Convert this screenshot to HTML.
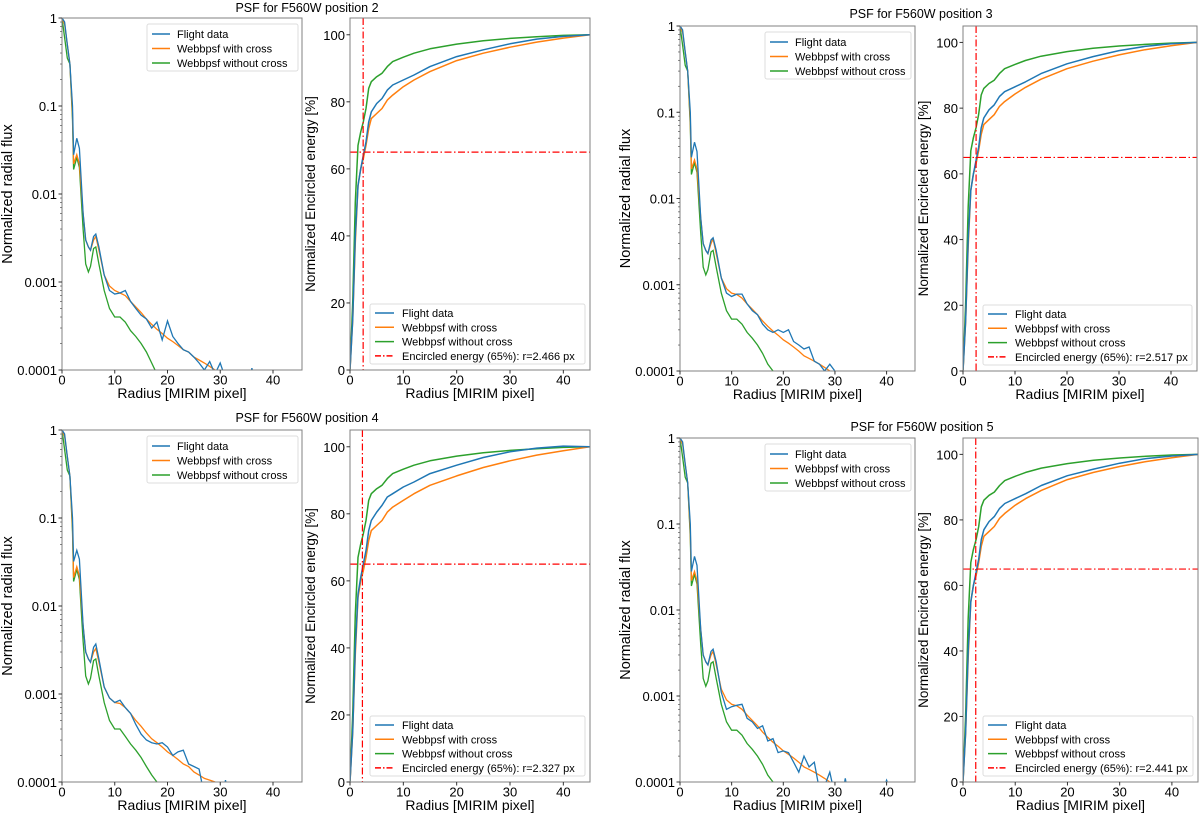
<!DOCTYPE html>
<html><head><meta charset="utf-8">
<style>
html,body{margin:0;padding:0;background:#fff;}
svg{display:block;font-family:"Liberation Sans","DejaVu Sans",sans-serif;}
</style></head>
<body>
<svg id="fig" width="1200" height="814" viewBox="0 0 1200 814" xmlns="http://www.w3.org/2000/svg"></svg>
<script>
// ---- data ----
const rFlux = [0,0.5,1,1.5,2,2.2,2.8,3.3,4,4.5,5,5.4,6,6.4,7,8,9,10,11,12,13,14,15,16,17,18,19,20,21,22,23,24,25,26,27,28,29,30,31,32,33,34,35,36,37,38,40,42,45];
const rEE = [0,0.5,1,1.5,2,2.5,3,3.5,4,5,6,7,8,10,12,15,20,25,30,35,40,45];
const FLOOR = 5e-5;

const flux2Flight = [1,0.9,0.5,0.3,0.1,0.028,0.043,0.033,0.006,0.003,0.0025,0.0023,0.0033,0.0035,0.0025,0.0012,0.0008,0.00073,0.00075,0.0008,0.0006,0.0005,0.00042,0.00038,0.0003,0.00035,0.00022,0.00036,0.00024,0.0002,0.00017,0.00016,0.00014,0.00012,0.0001,0.000125,0.00009,0.00012,0.00008,FLOOR,FLOOR,FLOOR,FLOOR,0.000105];
const flux2Cross = [1,0.85,0.5,0.3,0.08,0.022,0.028,0.022,0.006,0.003,0.0025,0.0023,0.003,0.0033,0.0023,0.0012,0.0009,0.0008,0.00075,0.0007,0.0006,0.00052,0.00045,0.00038,0.00033,0.00029,0.00026,0.00023,0.00021,0.00019,0.00017,0.00016,0.00014,0.00013,0.00012,0.00011,0.0001,0.00009];
const flux2NoCross = [1,0.6,0.35,0.3,0.07,0.019,0.026,0.02,0.004,0.0016,0.0013,0.0015,0.0024,0.0025,0.0016,0.0008,0.0005,0.0004,0.0004,0.00035,0.00028,0.00024,0.0002,0.00016,0.00012,0.00009];

const flux3Flight = [1,0.9,0.5,0.3,0.1,0.03,0.045,0.035,0.006,0.003,0.0025,0.0023,0.0033,0.0035,0.0025,0.0012,0.0008,0.00073,0.00078,0.00078,0.0006,0.0005,0.00045,0.00035,0.0003,0.00028,0.0003,0.00028,0.0003,0.00022,0.0002,0.00018,0.00019,0.00013,0.00012,0.0001,0.00012,0.0001];
const flux3Cross = [1,0.85,0.5,0.3,0.08,0.022,0.028,0.022,0.006,0.003,0.0025,0.0023,0.003,0.0034,0.0023,0.0012,0.0009,0.0008,0.00077,0.0007,0.0006,0.00052,0.00045,0.00038,0.00033,0.00029,0.00026,0.00023,0.00021,0.00019,0.00017,0.00015,0.00014,0.00013,0.00012,0.00011,0.0001,0.000095];
const flux3NoCross = [1,0.6,0.35,0.3,0.07,0.019,0.026,0.02,0.004,0.0016,0.0013,0.0015,0.0024,0.0025,0.0016,0.0008,0.0005,0.0004,0.0004,0.00035,0.00028,0.00024,0.0002,0.00016,0.00012,0.0001];

const flux4Flight = [1,0.9,0.5,0.3,0.1,0.032,0.043,0.034,0.006,0.003,0.0025,0.0023,0.0034,0.0037,0.0025,0.0012,0.0009,0.0008,0.00085,0.0007,0.0006,0.00045,0.00035,0.0003,0.00028,0.00027,0.00028,0.00025,0.0002,0.00022,0.00023,0.00016,0.00015,0.00014,0.00007,FLOOR,FLOOR,FLOOR,0.000105];
const flux4Cross = [1,0.85,0.5,0.3,0.08,0.021,0.028,0.022,0.006,0.003,0.0025,0.0023,0.003,0.0033,0.0023,0.0012,0.0009,0.0008,0.00078,0.0007,0.0006,0.0005,0.00043,0.00036,0.00031,0.00028,0.00025,0.00022,0.0002,0.00018,0.00016,0.00015,0.00013,0.00012,0.00011,0.000105,0.0001,0.00009];
const flux4NoCross = [1,0.6,0.35,0.3,0.07,0.019,0.026,0.02,0.004,0.0016,0.0013,0.0015,0.0024,0.0025,0.0016,0.0008,0.0005,0.0004,0.0004,0.00033,0.00027,0.00023,0.00019,0.00015,0.00012,0.0001];

const flux5Flight = [1,0.9,0.5,0.3,0.1,0.028,0.042,0.033,0.006,0.003,0.0025,0.0023,0.0033,0.0035,0.0025,0.0011,0.0007,0.00075,0.00078,0.0008,0.00055,0.0005,0.00042,0.00045,0.0003,0.00032,0.00022,0.00023,0.00022,0.00017,0.00013,0.0002,0.00015,0.00017,0.00008,0.00009,0.00013,0.00007,FLOOR,0.00011,FLOOR,FLOOR,FLOOR,FLOOR,FLOOR,FLOOR,0.000105];
const flux5Cross = [1,0.85,0.5,0.3,0.08,0.022,0.028,0.022,0.006,0.003,0.0025,0.0023,0.003,0.0033,0.0023,0.0012,0.0009,0.0008,0.00077,0.0007,0.0006,0.00052,0.00045,0.00038,0.00033,0.00029,0.00026,0.00023,0.00021,0.00019,0.00017,0.00015,0.00014,0.00013,0.00012,0.00011,0.0001,0.00009];
const flux5NoCross = [1,0.6,0.35,0.3,0.07,0.019,0.026,0.02,0.004,0.0016,0.0013,0.0015,0.0024,0.0025,0.0016,0.0008,0.0005,0.0004,0.0004,0.00035,0.00028,0.00024,0.0002,0.00016,0.00012,0.0001];

const ee2Flight = [0,15,40,55,60,64,68,74,77,79.5,81,83.5,85,86.5,88,90.5,93.5,95.5,97.3,98.7,99.5,100];
const ee2Cross = [0,15,38,55,60,63,67,72,75,76.5,78,80.5,82,84.5,86.5,89,92.3,94.5,96.3,97.8,99,100];
const ee2NoCross = [0,20,50,67,71,74,78,84,86,87.5,88.5,90.5,92,93.3,94.5,95.8,97.2,98.2,98.9,99.4,99.8,100];
const ee3Flight = [0,15,40,55,60,64,68,74,77,79.5,81,83.5,85,86.5,88,90.5,93.5,95.7,97.5,98.8,99.6,100];
const ee3Cross = [0,15,38,55,60,63,67,72,75,76.5,78,80.5,82,84.3,86.3,88.8,92,94.3,96.2,97.8,99,100];
const ee3NoCross = [0,20,50,67,71,74,78,84,86,87.5,88.5,90.5,92,93.3,94.5,95.8,97.2,98.2,98.9,99.4,99.8,100];
const ee4Flight = [0,15,40,56,61,65,69,75,78,80.5,82.5,85,86,88,89.5,92,94.5,96.8,98.5,99.6,100.2,100];
const ee4Cross = [0,15,38,55,60,63,67,72,75,76.5,78,80.5,82,84,86,88.5,91.3,93.8,95.8,97.5,98.8,100];
const ee4NoCross = [0,20,50,67,71,74,78,84,86,87.5,88.5,90.5,92,93.3,94.5,95.8,97.2,98.2,98.9,99.4,99.8,100];
const ee5Flight = [0,15,40,55,60,64,68,74,77,79.5,81,83.5,85,86.5,88,90.5,93.5,95.5,97.3,98.7,99.5,100];
const ee5Cross = [0,15,38,55,60,63,67,72,75,76.5,78,80.5,82,84.5,86.5,89,92.3,94.5,96.3,97.8,99,100];
const ee5NoCross = [0,20,50,67,71,74,78,84,86,87.5,88.5,90.5,92,93.3,94.5,95.8,97.2,98.2,98.9,99.4,99.8,100];

const eeRadius = [2.466, 2.517, 2.327, 2.441];
const eeLevel = 65;
const positions = [2,3,4,5];
const xTicks = [0,10,20,30,40];
const fluxTicks = [1,0.1,0.01,0.001,0.0001];
const fluxTickLabels = ["1","0.1","0.01","0.001","0.0001"];
const eeTicks = [0,20,40,60,80,100];
const legendLabels = ["Flight data","Webbpsf with cross","Webbpsf without cross"];

// ---- layout ----
const C = {blue:"#1f77b4", orange:"#ff7f0e", green:"#2ca02c", red:"#ff0000"};
const quads = [
  {flux:[62,18,302,370], ee:[350,18,590,370], title:[307,12], fl:[flux2Flight,flux2Cross,flux2NoCross], e:[ee2Flight,ee2Cross,ee2NoCross]},
  {flux:[680,26,915,371], ee:[963,26,1197,371], title:[921,18], fl:[flux3Flight,flux3Cross,flux3NoCross], e:[ee3Flight,ee3Cross,ee3NoCross]},
  {flux:[62,430,302,782], ee:[350,430,590,782], title:[307,422], fl:[flux4Flight,flux4Cross,flux4NoCross], e:[ee4Flight,ee4Cross,ee4NoCross]},
  {flux:[680,438,915,782], ee:[963,438,1198,782], title:[922,431], fl:[flux5Flight,flux5Cross,flux5NoCross], e:[ee5Flight,ee5Cross,ee5NoCross]}
];
const NS = "http://www.w3.org/2000/svg";
const svg = document.getElementById('fig');
function mk(tag, attrs, parent, text){
  const el = document.createElementNS(NS, tag);
  for (const k in attrs) el.setAttribute(k, attrs[k]);
  if (text !== undefined) el.textContent = text;
  (parent||svg).appendChild(el);
  return el;
}
let clipId = 0;
function addClip(b){
  const id = 'clip'+(clipId++);
  const cp = mk('clipPath',{id:id});
  mk('rect',{x:b[0],y:b[1],width:b[2]-b[0],height:b[3]-b[1]},cp);
  return id;
}
function pad(arr, n){ const a = arr.slice(); while(a.length<n) a.push(FLOOR); return a; }

quads.forEach((q,qi)=>{
  const g = mk('g',{});
  
  
  const t = mk('text',{x:q.title[0],y:q.title[1],'font-size':12.5,'text-anchor':'middle',fill:'#000'},g,'PSF for F560W position '+positions[qi]);
  
  

  // ---------- flux (log) axes ----------
  const b = q.flux, xmaxF = 45.5;
  const fx = r => b[0] + r/xmaxF*(b[2]-b[0]);
  const fy = v => b[3] - (Math.log10(v)+4)/4*(b[3]-b[1]);
  const fg = mk('g',{},g);
  
  
  const cid = addClip(b);
  const sers = [C.blue,C.orange,C.green];
  const names = ['flight-data-flux-line','webbpsf-cross-flux-line','webbpsf-nocross-flux-line'];
  [2,1,0].forEach(si=>{
    const vals = pad(q.fl[si], rFlux.length);
    const d = rFlux.map((r,i)=>(i?'L':'M')+fx(r).toFixed(1)+','+fy(vals[i]).toFixed(1)).join('');
    const p = mk('path',{d:d,fill:'none',stroke:sers[si],'stroke-width':1.3,'clip-path':'url(#'+cid+')'},fg);
    
    
  });
  mk('rect',{x:b[0],y:b[1],width:b[2]-b[0],height:b[3]-b[1],fill:'none',stroke:'#808080','stroke-width':1},fg);
  xTicks.forEach(v=>{
    mk('line',{x1:fx(v),x2:fx(v),y1:b[3],y2:b[3]+3.5,stroke:'#333'},fg);
    const tl = mk('text',{x:fx(v),y:b[3]+14.5,'font-size':13,'text-anchor':'middle'},fg,String(v));
    
    
  });
  fluxTicks.forEach((v,i)=>{
    mk('line',{x1:b[0]-3.5,x2:b[0],y1:fy(v),y2:fy(v),stroke:'#333'},fg);
    const tl = mk('text',{x:b[0]-5,y:fy(v)+5,'font-size':13,'text-anchor':'end'},fg,fluxTickLabels[i]);
    
    
    if (i<4) for(let m=2;m<10;m++){ const yy=fy(v/10*m); mk('line',{x1:b[0]-2,x2:b[0],y1:yy,y2:yy,stroke:'#555','stroke-width':0.7},fg); }
  });
  const xl = mk('text',{x:(b[0]+b[2])/2,y:b[3]+28,'font-size':14,'text-anchor':'middle'},fg,'Radius [MIRIM pixel]');
  
  
  const cy=(b[1]+b[3])/2, yx = b[0]-50;
  const yl = mk('text',{x:yx,y:cy,'font-size':14.5,'text-anchor':'middle',transform:'rotate(-90 '+yx+' '+cy+')'},fg,'Normalized radial flux');
  
  
  // legend
  const lg = mk('g',{},fg);
  
  
  const lx = b[0]+85, ly = b[1]+6;
  mk('rect',{x:lx,y:ly,width:b[2]-4-lx,height:47,rx:2,fill:'#fff',stroke:'#ddd'},lg);
  legendLabels.forEach((s,i)=>{
    const yy = ly+10+i*14.5;
    mk('line',{x1:lx+5,x2:lx+23,y1:yy,y2:yy,stroke:sers[i],'stroke-width':1.5},lg);
    const le = mk('text',{x:lx+30,y:yy+4,'font-size':11},lg,s);
    
    
  });

  // ---------- encircled energy axes ----------
  const e = q.ee, xmaxE = 45, ymaxE = 105;
  const ex = r => e[0] + r/xmaxE*(e[2]-e[0]);
  const ey = v => e[3] - v/ymaxE*(e[3]-e[1]);
  const eg = mk('g',{},g);
  
  
  const cid2 = addClip(e);
  const enames = ['flight-data-ee-line','webbpsf-cross-ee-line','webbpsf-nocross-ee-line'];
  [2,1,0].forEach(si=>{
    const vals = q.e[si];
    const d = rEE.map((r,i)=>(i?'L':'M')+ex(r).toFixed(1)+','+ey(vals[i]).toFixed(1)).join('');
    const p = mk('path',{d:d,fill:'none',stroke:sers[si],'stroke-width':1.5,'stroke-linejoin':'round','clip-path':'url(#'+cid2+')'},eg);
    
    
  });
  const hl = mk('line',{x1:e[0],x2:e[2],y1:ey(eeLevel),y2:ey(eeLevel),stroke:C.red,'stroke-width':1.2,'stroke-dasharray':'7 2.5 1.5 2.5'},eg);
  
  
  const vl = mk('line',{x1:ex(eeRadius[qi]),x2:ex(eeRadius[qi]),y1:e[1],y2:e[3],stroke:C.red,'stroke-width':1.2,'stroke-dasharray':'7 2.5 1.5 2.5'},eg);
  
  
  mk('rect',{x:e[0],y:e[1],width:e[2]-e[0],height:e[3]-e[1],fill:'none',stroke:'#808080','stroke-width':1},eg);
  xTicks.forEach(v=>{
    mk('line',{x1:ex(v),x2:ex(v),y1:e[3],y2:e[3]+3.5,stroke:'#333'},eg);
    const tl = mk('text',{x:ex(v),y:e[3]+14.5,'font-size':13,'text-anchor':'middle'},eg,String(v));
    
    
  });
  eeTicks.forEach(v=>{
    mk('line',{x1:e[0]-3.5,x2:e[0],y1:ey(v),y2:ey(v),stroke:'#333'},eg);
    const tl = mk('text',{x:e[0]-5,y:ey(v)+5,'font-size':13,'text-anchor':'end'},eg,String(v));
    
    
  });
  const xl2 = mk('text',{x:(e[0]+e[2])/2,y:e[3]+28,'font-size':14,'text-anchor':'middle'},eg,'Radius [MIRIM pixel]');
  
  
  const cy2=(e[1]+e[3])/2, yx2 = e[0]-35;
  const yl2 = mk('text',{x:yx2,y:cy2,'font-size':13.5,'text-anchor':'middle',transform:'rotate(-90 '+yx2+' '+cy2+')'},eg,'Normalized Encircled energy [%]');
  
  
  const lg2 = mk('g',{},eg);
  
  
  const lx2 = e[0]+20, ly2 = e[3]-66;
  mk('rect',{x:lx2,y:ly2,width:e[2]-5-lx2,height:60,rx:2,fill:'#fff',stroke:'#ddd'},lg2);
  const eeLabels = legendLabels.concat(['Encircled energy (65%): r='+eeRadius[qi].toFixed(3)+' px']);
  eeLabels.forEach((s,i)=>{
    const yy = ly2+9+i*14.3;
    const ln = mk('line',{x1:lx2+5,x2:lx2+24,y1:yy,y2:yy,stroke:i<3?sers[i]:C.red,'stroke-width':1.5},lg2);
    if(i===3) ln.setAttribute('stroke-dasharray','6 2 1.5 2');
    const le = mk('text',{x:lx2+32,y:yy+4,'font-size':11},lg2,s);
    
    
  });
});
</script>
</body></html>
